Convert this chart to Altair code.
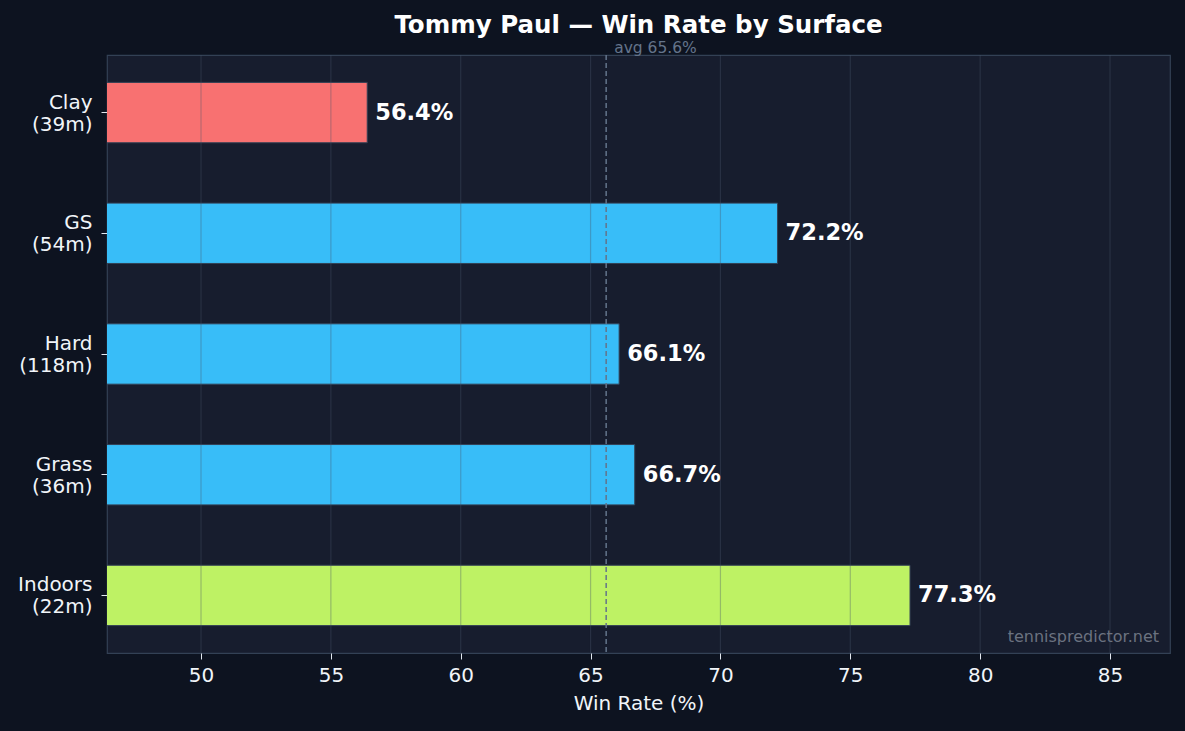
import altair as alt
import pandas as pd

surfaces = ["Clay", "GS", "Hard", "Grass", "Indoors"]
matches = [39, 54, 118, 36, 22]
win_rates = [56.4, 72.2, 66.1, 66.7, 77.3]
bar_colors = ["#f87171", "#38bdf8", "#38bdf8", "#38bdf8", "#bef264"]
avg_rate = 65.6
x_ticks = [50, 55, 60, 65, 70, 75, 80, 85]
x_domain = [46.38, 87.31]

labels = [f"{s}\n({m}m)" for s, m in zip(surfaces, matches)]
df = pd.DataFrame({
    "label": labels,
    "rate": win_rates,
    "base": [0] * len(surfaces),
    "color": bar_colors,
    "text": [f"{v:.1f}%" for v in win_rates],
})
grid_df = pd.DataFrame({"tick": x_ticks})
avg_df = pd.DataFrame({"avg": [avg_rate], "text": [f"avg {avg_rate:.1f}%"]})

FONT = "DejaVu Sans"
xscale = alt.Scale(domain=x_domain, nice=False, zero=False)
yscale = alt.Scale(paddingInner=0.5, paddingOuter=0.227)

x_enc = alt.X(
    "rate:Q", scale=xscale,
    axis=alt.Axis(values=x_ticks, grid=False, title="Win Rate (%)", format="d",
                  labelFontSize=20, titleFontSize=20, labelColor="#f1f5f9",
                  titleColor="#f1f5f9", tickColor="#e2e8f0", tickSize=6,
                  labelPadding=6, titlePadding=8, domain=False, labelFont=FONT,
                  titleFont=FONT, titleFontWeight="normal"),
)
y_enc = alt.Y(
    "label:N", sort=labels, scale=yscale,
    axis=alt.Axis(title=None, labelExpr="split(datum.value, '\\n')",
                  labelFontSize=20, labelLineHeight=22, labelColor="#f1f5f9",
                  tickColor="#e2e8f0", tickSize=6, labelPadding=9, labelOffset=-10,
                  domain=False, labelFont=FONT, labelAlign="right",
                  labelBaseline="middle"),
)

bars = alt.Chart(df).mark_bar(clip=True, stroke="#334155", strokeWidth=1).encode(
    x=x_enc, x2="base:Q", y=y_enc,
    color=alt.Color("color:N", scale=None),
)

grid = alt.Chart(grid_df).mark_rule(color="#475569", opacity=0.35, strokeWidth=1.2).encode(
    x=alt.X("tick:Q", scale=xscale),
)

avg_rule = alt.Chart(avg_df).mark_rule(color="#64748b", strokeWidth=1.5, strokeDash=[5, 3]).encode(
    x=alt.X("avg:Q", scale=xscale),
)
avg_text = alt.Chart(avg_df).mark_text(
    align="left", baseline="middle", dx=8, fontSize=15.5, font=FONT, color="#64748b"
).encode(
    x=alt.X("avg:Q", scale=xscale), y=alt.value(-7), text="text:N",
)

value_text = alt.Chart(df).mark_text(
    align="left", baseline="middle", dx=8, fontSize=22.5, fontWeight="bold",
    font=FONT, color="#ffffff"
).encode(
    x=alt.X("rate:Q", scale=xscale), y=alt.Y("label:N", sort=labels, scale=yscale),
    text="text:N",
)

watermark = alt.Chart(avg_df).mark_text(
    align="right", baseline="middle", fontSize=16, font=FONT, color="#6b7280"
).encode(
    x=alt.value(1052), y=alt.value(582), text=alt.value("tennispredictor.net"),
)

chart = alt.layer(bars, grid, avg_rule, avg_text, value_text, watermark).properties(
    width=1063, height=598,
    autosize=alt.AutoSizeParams(type="none"),
    padding={"left": 107, "top": 55, "right": 15, "bottom": 78},
    title=alt.Title("Tommy Paul — Win Rate by Surface", font=FONT, fontSize=24.5,
                    fontWeight="bold", color="#ffffff", anchor="middle",
                    offset=3, frame="group"),
).configure(background="#0d1320").configure_view(
    fill="#171d2e", stroke="#334155", strokeWidth=1.2
)

chart.save("out.html", embed_options={"renderer": "svg", "actions": False})
